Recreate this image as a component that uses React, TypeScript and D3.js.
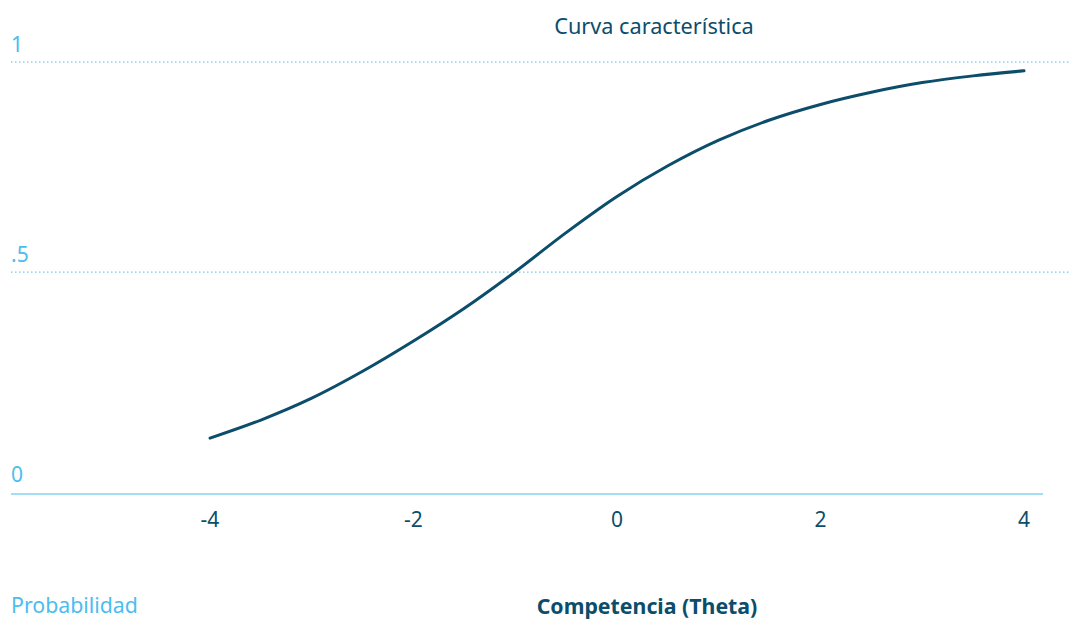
import React from "react";
import * as d3 from "d3";

const thetaValues = [-4, -3.5, -3, -2.5, -2, -1.5, -1, -0.5, 0, 0.5, 1, 1.5, 2, 2.5, 3, 3.5, 4];
const probValues = [0.105, 0.148, 0.2, 0.264, 0.336, 0.414, 0.501, 0.594, 0.68, 0.753, 0.814, 0.862, 0.899, 0.928, 0.951, 0.967, 0.979];
const xTicks = [-4, -2, 0, 2, 4];
const yTicks = [0, 0.5, 1];
const yTickLabels = ["0", ".5", "1"];

const W = 1070;
const H = 619;
const DARK = "#0b4d6b";
const LIGHT = "#4bbdee";
const FONT = "'Noto Sans', sans-serif";

export default function App() {
  const x = d3.scaleLinear().domain([-4, 4]).range([210, 1024]);
  const y = d3.scaleLinear().domain([-0.028, 1]).range([494, 62]);
  const axisY = y(-0.028);
  const points = thetaValues.map((t, i) => [t, probValues[i]] as [number, number]);
  const line = d3
    .line<[number, number]>()
    .x((d) => x(d[0]))
    .y((d) => y(d[1]))
    .curve(d3.curveCatmullRom.alpha(0.5));

  return (
    <div style={{ position: "absolute", left: 0, top: 0 }}>
      <svg width={W} height={H} style={{ display: "block", background: "#fff" }}>
        {yTicks
          .filter((t) => t > 0)
          .map((t) => (
            <line
              key={"g" + t}
              x1={11}
              x2={W}
              y1={y(t)}
              y2={y(t)}
              stroke={LIGHT}
              strokeWidth={1}
              strokeDasharray="1.5,2.5"
            />
          ))}
        <line x1={11} x2={1043} y1={axisY} y2={axisY} stroke={LIGHT} strokeWidth={1.2} />
        {yTicks.map((t, i) => (
          <text
            key={"yl" + t}
            x={11}
            y={(t === 0 ? axisY - 12 : y(t) - 10)}
            fill={LIGHT}
            fontFamily={FONT}
            fontSize={21}
          >
            {yTickLabels[i]}
          </text>
        ))}
        {xTicks.map((t) => (
          <text
            key={"xl" + t}
            x={x(t)}
            y={527}
            textAnchor="middle"
            fill={DARK}
            fontFamily={FONT}
            fontSize={21}
          >
            {t < 0 ? "-" + Math.abs(t) : String(t)}
          </text>
        ))}
        <path d={line(points) || ""} fill="none" stroke={DARK} strokeWidth={3} strokeLinecap="round" />
        <text x={654} y={34} textAnchor="middle" fill={DARK} fontFamily={FONT} fontSize={21.7}>
          Curva característica
        </text>
        <text x={11} y={613} fill={LIGHT} fontFamily={FONT} fontSize={21.3}>
          Probabilidad
        </text>
        <text
          x={647}
          y={614}
          textAnchor="middle"
          fill={DARK}
          fontFamily={FONT}
          fontSize={21.3}
          fontWeight="bold"
        >
          Competencia (Theta)
        </text>
      </svg>
    </div>
  );
}
